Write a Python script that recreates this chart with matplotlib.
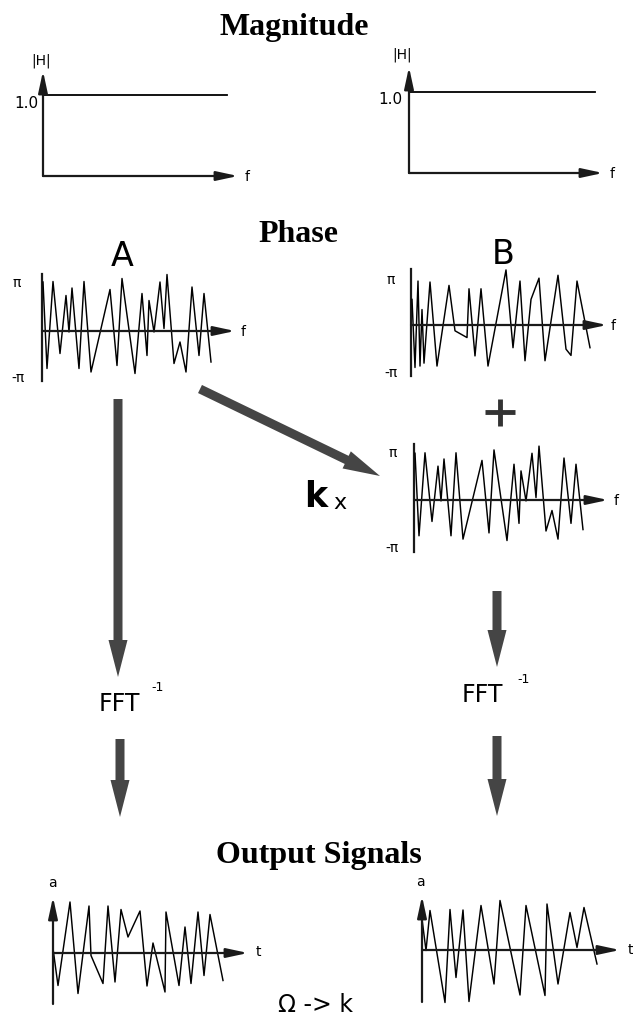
import matplotlib
matplotlib.use("Agg")
import matplotlib.pyplot as plt
from matplotlib.patches import FancyArrow

W, H = 633, 1020

# magnitude spectra (flat, |H| = 1.0)
mag_freq_a = [0, 184]
mag_freq_b = [0, 186]
mag_a = [1.0, 1.0]
mag_b = [1.0, 1.0]

# phase spectra, in units of pi
phase_a_freq = [1, 5, 11, 18, 24, 27, 30, 37, 42, 49, 68, 75, 80, 93, 100, 105, 107, 112,
                118, 122, 125, 132, 138, 144, 150, 157, 162, 169]
phase_a = [0.98, -0.75, 0.99, -0.45, 0.71, -0.02, 0.86, -0.75, 0.99, -0.82, 0.83, -0.69, 1.05,
           -0.85, 0.75, -0.49, 0.61, -0.02, 0.98, 0.05, 1.13, -0.65, -0.22, -0.82, 0.88, -0.49,
           0.75, -0.62]
phase_b_freq = [1, 4, 7, 9, 11, 13, 19, 26, 38, 44, 56, 58, 64, 70, 77, 95, 102, 109, 114, 120,
                128, 134, 147, 155, 160, 166, 179]
phase_b = [0.53, -0.88, 0.91, -0.85, 0.32, -0.79, 0.89, -0.85, 0.82, -0.12, -0.26, 0.75, -0.64,
           0.75, -0.85, 1.14, -0.47, 0.91, -0.74, 0.53, 0.97, -0.74, 1.03, -0.50, -0.63, 0.91, -0.47]

# output signals (amplitude vs time)
output_a_time = [0, 5, 17, 25, 36, 38, 50, 55, 62, 68, 75, 87, 94, 100, 112, 113, 126, 132,
                 138, 145, 151, 157, 170]
output_a = [0.09, -0.65, 1.02, -0.81, 0.94, -0.05, -0.61, 0.94, -0.58, 0.87, 0.32, 0.84, -0.66,
            0.2, -0.78, 0.82, -0.65, 0.52, -0.61, 0.82, -0.45, 0.77, -0.55]
output_b_time = [0, 4, 8, 23, 28, 34, 41, 47, 59, 72, 78, 98, 104, 123, 125, 136, 148, 155, 162, 175]
output_b = [0.62, -0.01, 0.79, -1.05, 0.81, -0.55, 0.80, -1.03, 0.89, -0.68, 0.99, -0.90, 0.89,
            -0.91, 0.92, -0.68, 0.75, 0.05, 0.85, -0.28]

fig = plt.figure(figsize=(W / 100, H / 100), dpi=100)
fig.patch.set_facecolor("white")

# overlay axes in pixel coordinates for titles, labels and big arrows
ax0 = fig.add_axes([0, 0, 1, 1])
ax0.set_xlim(0, W)
ax0.set_ylim(H, 0)
ax0.axis("off")

AXC = "#1a1a1a"
LW = 1.05


def mini(ox, oy, x_end, top, bottom, sy, yarrow, m=14):
    # small plot with origin at pixel (ox, oy); x units = pixels, y units scaled by sy
    left, right, t, b = ox - m, x_end + m, top - m, bottom + m
    ax = fig.add_axes([left / W, 1 - b / H, (right - left) / W, (b - t) / H])
    ax.set_xlim(-m, right - ox)
    ax.set_ylim((oy - b) / sy, (oy - t) / sy)
    ax.axis("off")
    head = dict(arrowstyle="-|>,head_length=1.3,head_width=0.28", lw=1.6, color=AXC,
                shrinkA=0, shrinkB=0)
    ax.annotate("", xy=(x_end - ox, 0), xytext=(0, 0), arrowprops=head)
    if yarrow:
        ax.annotate("", xy=(0, (oy - top) / sy), xytext=(0, (oy - bottom) / sy), arrowprops=head)
    else:
        ax.plot([0, 0], [(oy - bottom) / sy, (oy - top) / sy], color=AXC, lw=1.6)
    return ax


# titles
tfont = dict(family="Liberation Serif", fontweight="bold", fontsize=23, ha="center", va="baseline")
ax0.text(294, 35, "Magnitude", **tfont)
ax0.text(298, 242, "Phase", **tfont)
ax0.text(319, 863, "Output Signals", **tfont)

# magnitude plots
m1 = mini(43, 177, 238, 72, 177, 81, True)
m1.plot(mag_freq_a, mag_a, color="black", lw=1.3)
m2 = mini(409, 174, 603, 68, 174, 81, True)
m2.plot(mag_freq_b, mag_b, color="black", lw=1.3)
sfont = dict(fontsize=10, ha="center", va="center")
ax0.text(41, 61, "|H|", **sfont)
ax0.text(402, 55, "|H|", **sfont)
ax0.text(38, 103, "1.0", fontsize=11, ha="right", va="center")
ax0.text(402, 100, "1.0", fontsize=11, ha="right", va="center")
ax0.text(247, 177, "f", **sfont)
ax0.text(612, 174, "f", **sfont)

# phase plots
ax0.text(122, 256, "A", fontsize=24, ha="center", va="center")
ax0.text(503, 255, "B", fontsize=24, ha="center", va="center")
p1 = mini(42, 332, 235, 275, 382, 50, False)
p1.plot(phase_a_freq, phase_a, color="black", lw=LW)
p2 = mini(411, 326, 607, 270, 377, 48.3, False)
p2.plot(phase_b_freq, phase_b, color="black", lw=LW)
p3 = mini(414, 501, 608, 445, 553, 47.7, False)
p3.plot(phase_a_freq, phase_a, color="black", lw=LW)
for x, y, s in [(17, 283, "π"), (18, 378, "-π"), (243, 332, "f"),
                (391, 280, "π"), (391, 373, "-π"), (613, 326, "f"),
                (393, 453, "π"), (392, 548, "-π"), (616, 501, "f")]:
    ax0.text(x, y, s, **sfont)

# plus sign
ax0.plot([485, 515], [413, 413], color="#333333", lw=3.5, solid_capstyle="butt")
ax0.plot([500, 500], [400, 427], color="#333333", lw=3.5, solid_capstyle="butt")

# k x
ax0.text(316, 497, "k", fontsize=25, fontweight="bold", ha="center", va="center")
ax0.text(340, 503, "x", fontsize=16, ha="center", va="center")

# big arrows
ARC = "#454545"
for x0, y0, x1, y1 in [(118, 400, 118, 678), (120, 740, 120, 818),
                       (497, 592, 497, 668), (497, 737, 497, 817),
                       (200, 390, 380, 477)]:
    ax0.add_patch(FancyArrow(x0, y0, x1 - x0, y1 - y0, width=9, head_width=19, head_length=37,
                             length_includes_head=True, color=ARC, lw=0))

# FFT^-1 labels
ax0.text(119, 704, "FFT", fontsize=17, ha="center", va="center")
ax0.text(158, 688, "-1", fontsize=9, ha="center", va="center")
ax0.text(482, 695, "FFT", fontsize=17, ha="center", va="center")
ax0.text(524, 680, "-1", fontsize=9, ha="center", va="center")

# output signals
o1 = mini(53, 954, 248, 898, 1005, 50, True)
o1.plot(output_a_time, output_a, color="black", lw=LW)
o2 = mini(422, 951, 620, 897, 1003, 50, True)
o2.plot(output_b_time, output_b, color="black", lw=LW)
ax0.text(52, 883, "a", **sfont)
ax0.text(420, 882, "a", **sfont)
ax0.text(258, 952, "t", **sfont)
ax0.text(630, 950, "t", **sfont)

ax0.text(316, 1005, "Ω -> k", fontsize=17, ha="center", va="center")

fig.savefig("out.png", dpi=100)
